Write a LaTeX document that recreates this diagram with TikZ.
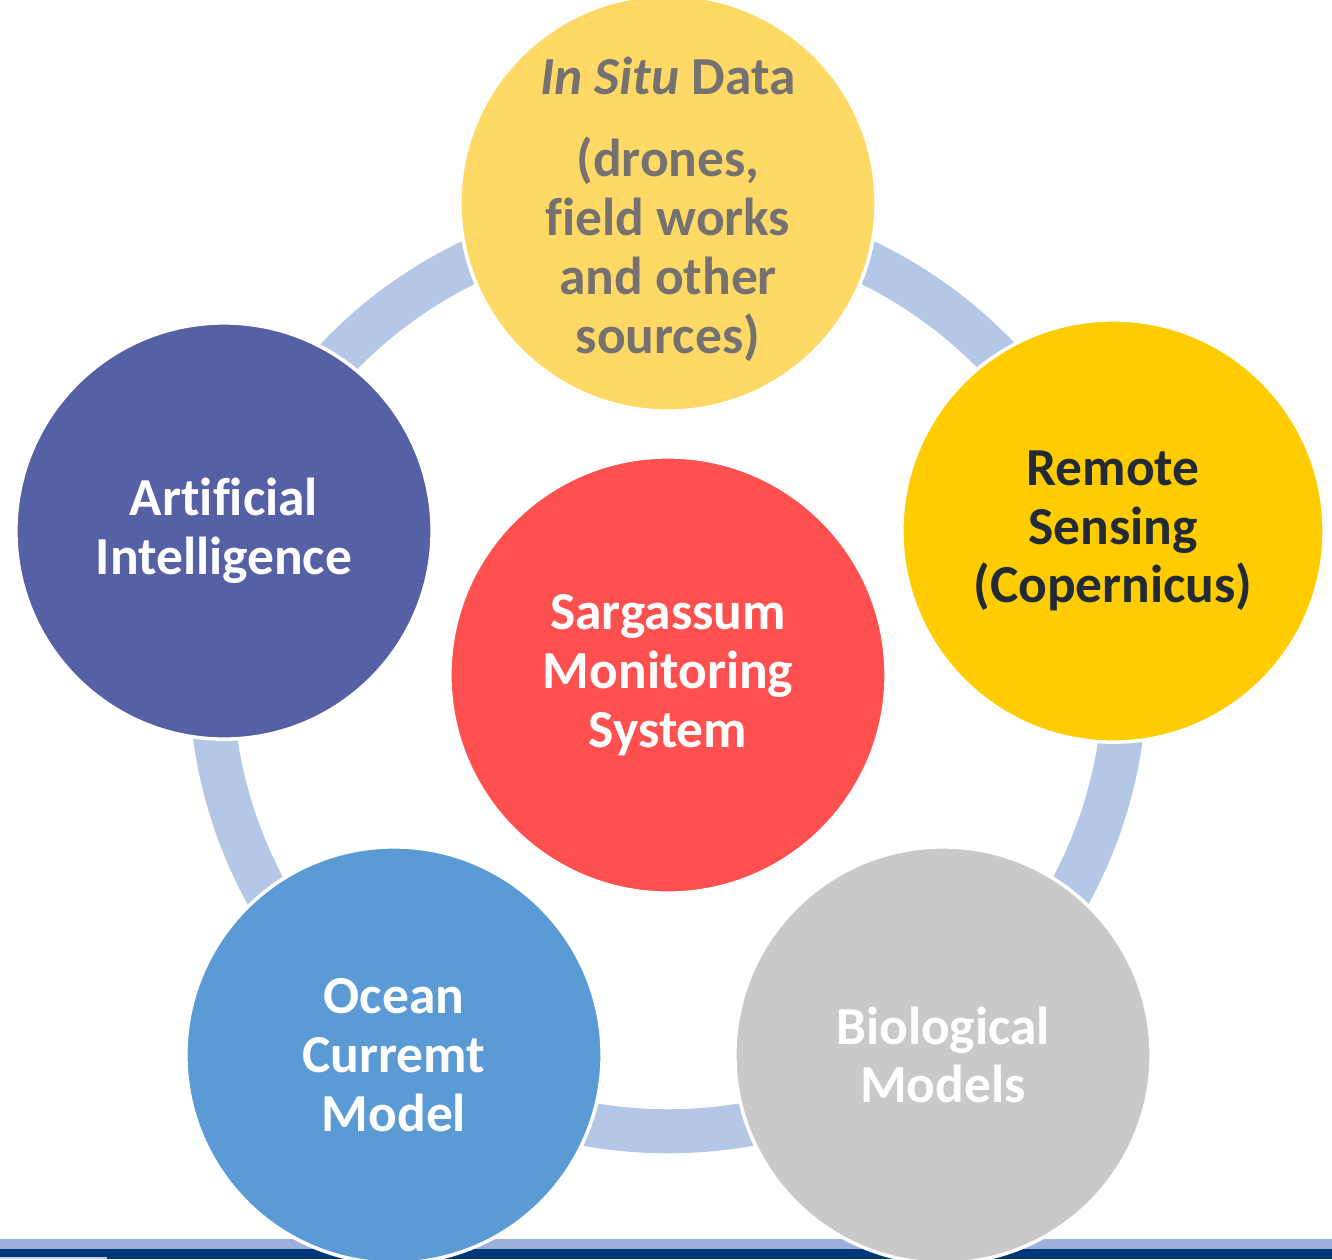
\documentclass[tikz,border=0pt]{standalone}
\usepackage{fontspec}
\setmainfont[Ligatures=NoCommon]{Carlito}
\usetikzlibrary{positioning}

\definecolor{ringblue}{HTML}{B4C7E7}
\definecolor{insitufill}{HTML}{FFD966}
\definecolor{insitutext}{HTML}{767171}
\definecolor{remotefill}{HTML}{FFCC00}
\definecolor{remotetext}{HTML}{222A35}
\definecolor{biofill}{HTML}{C9C9C9}
\definecolor{oceanfill}{HTML}{5B9BD5}
\definecolor{aifill}{HTML}{5560A5}
\definecolor{smsfill}{HTML}{FF5050}
\definecolor{stripblue}{HTML}{9DAFDB}
\definecolor{stripnavy}{HTML}{003779}

\begin{document}
\begin{tikzpicture}[
    x=0.01cm, y=-0.01cm,
    bubble/.style={circle, draw=white, line width=1pt, inner sep=0pt,
      minimum size=4.16cm, align=center, text=white,
      font=\fontsize{15.2}{16.7}\selectfont\bfseries},
    cycleline/.style={draw=ringblue, line width=0.44cm},
  ]
  \useasboundingbox (0,0) rectangle (1332,1259);

  % footer band
  \fill[stripblue] (0,1239) rectangle (1332,1249);
  \fill[stripnavy] (0,1249) rectangle (1332,1259);
  \fill[stripblue!60!white] (0,1257) rectangle (107,1259);

  % cycle ring
  \coordinate (hub) at (668,674);
  \draw[cycleline] (hub) circle[radius=4.57cm];

  \node[bubble, fill=insitufill, text=insitutext, inner sep=-0.6cm] (insitu) at (668,203)
    {\rule{0pt}{14pt}\textit{In Situ} Data\\[0.24cm] (drones,\\ field works\\ and other\\ sources)};
  \node[bubble, fill=remotefill, text=remotetext, minimum size=4.22cm] (remote) at (1113,531)
    {Remote\\ Sensing\\ (Copernicus)};
  \node[bubble, fill=biofill] (bio) at (943,1055) {Biological\\ Models};
  \node[bubble, fill=oceanfill] (ocean) at (394,1055) {Ocean\\ Curremt\\ Model};
  \node[bubble, fill=aifill] (ai) at (224,531) {Artificial\\ Intelligence};

  \node[bubble, fill=smsfill, minimum size=4.36cm] (sms) at (668,675)
    {Sargassum\\ Monitoring\\ System};
\end{tikzpicture}
\end{document}
